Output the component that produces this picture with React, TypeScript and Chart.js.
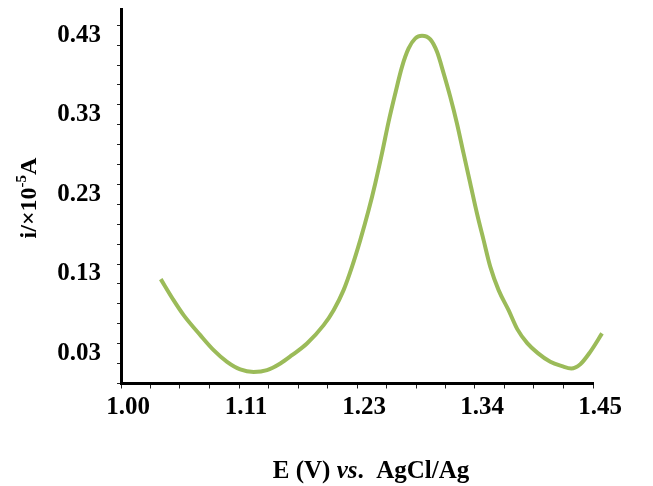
import { useEffect, useRef } from 'react';
import { Chart, registerables } from 'chart.js';

Chart.register(...registerables);

// Differential pulse voltammogram: potential (V vs. AgCl/Ag) and current (×10^-5 A)
const potentialV = [
  1.0379, 1.0501, 1.0597, 1.0756, 1.0883, 1.1011, 1.1137, 1.1264, 1.1392, 1.1519,
  1.163, 1.1773, 1.1932, 1.2027, 1.2122, 1.2202, 1.2281, 1.2361, 1.2424, 1.2488,
  1.2551, 1.2615, 1.2679, 1.2742, 1.2806, 1.287, 1.2949, 1.3013, 1.3076, 1.3139,
  1.3203, 1.3266, 1.333, 1.3394, 1.3457, 1.3521, 1.36, 1.3695, 1.3778, 1.3873,
  1.3974, 1.4093, 1.4204, 1.4293, 1.4379, 1.4474, 1.4586,
];
const currentA = [
  0.1236, 0.0972, 0.0784, 0.0532, 0.0344, 0.0197, 0.0102, 0.0071, 0.0093, 0.0177,
  0.0281, 0.0428, 0.0658, 0.0846, 0.1098, 0.139, 0.1726, 0.2103, 0.2438, 0.2815,
  0.3212, 0.3569, 0.3903, 0.4134, 0.426, 0.4292, 0.4247, 0.4091, 0.382, 0.3526,
  0.3192, 0.2815, 0.2438, 0.2061, 0.1726, 0.139, 0.1098, 0.0846, 0.0608, 0.0432,
  0.0306, 0.0197, 0.0143, 0.0114, 0.0168, 0.0323, 0.0554,
];

const xTickLabels = ['1.00', '1.11', '1.23', '1.34', '1.45'];
const yTickLabels = ['0.03', '0.13', '0.23', '0.33', '0.43'];

const X_MIN = 1.0;
const X_MAX = 1.45;
const X_STEP = (X_MAX - X_MIN) / 16;
const Y_MIN = -0.0075;
const Y_MAX = 0.4623;
const Y_STEP = 0.025;

const SERIF = '"Liberation Serif", "Times New Roman", serif';
const LINE_GREEN = '#9BBB59';

const axisTitles = {
  id: 'axisTitles',
  afterDraw(chart: Chart) {
    const ctx = chart.ctx;
    ctx.save();
    ctx.fillStyle = '#000';
    ctx.textBaseline = 'alphabetic';

    // x-axis title: "E (V) vs.  AgCl/Ag" with italic "vs."
    const parts: [string, string][] = [
      ['E (V) ', `bold 25px ${SERIF}`],
      ['vs', `italic bold 25px ${SERIF}`],
      ['.  AgCl/Ag', `bold 25px ${SERIF}`],
    ];
    let total = 0;
    for (const [t, f] of parts) {
      ctx.font = f;
      total += ctx.measureText(t).width;
    }
    let x = 371 - total / 2;
    for (const [t, f] of parts) {
      ctx.font = f;
      ctx.fillText(t, x, 478);
      x += ctx.measureText(t).width;
    }

    // y-axis title: "i/×10⁻⁵A", rotated
    ctx.translate(36, 198);
    ctx.rotate(-Math.PI / 2);
    const main = `bold 24px ${SERIF}`;
    const sup = `bold 15px ${SERIF}`;
    const segs: [string, string, number][] = [
      ['i/×10', main, 0],
      ['-5', sup, -10],
      ['A', main, 0],
    ];
    let w = 0;
    for (const [t, f] of segs) {
      ctx.font = f;
      w += ctx.measureText(t).width;
    }
    let px = -w / 2;
    for (const [t, f, dy] of segs) {
      ctx.font = f;
      ctx.fillText(t, px, dy);
      px += ctx.measureText(t).width;
    }
    ctx.restore();
  },
};

export default function App() {
  const canvasRef = useRef<HTMLCanvasElement | null>(null);

  useEffect(() => {
    document.body.style.margin = '0';
    const canvas = canvasRef.current;
    if (!canvas) return;

    const chart = new Chart(canvas, {
      type: 'line',
      data: {
        datasets: [
          {
            data: potentialV.map((v, i) => ({ x: v, y: currentA[i] })),
            borderColor: LINE_GREEN,
            borderWidth: 4,
            pointRadius: 0,
            cubicInterpolationMode: 'monotone',
            fill: false,
            clip: false,
          },
        ],
      },
      options: {
        animation: false,
        responsive: false,
        maintainAspectRatio: false,
        layout: { padding: { top: 9.5, right: 60, left: 0, bottom: 0 } },
        plugins: {
          legend: { display: false },
          tooltip: { enabled: false },
        },
        scales: {
          x: {
            type: 'linear',
            min: X_MIN,
            max: X_MAX,
            afterFit(scale: any) {
              scale.height = 102.5;
              scale.paddingLeft = 0;
              scale.paddingRight = 0;
            },
            afterBuildTicks(scale: any) {
              const ticks = [];
              for (let k = 0; k <= 16; k++) ticks.push({ value: X_MIN + k * X_STEP });
              scale.ticks = ticks;
            },
            border: { display: true, color: '#000', width: 3 },
            grid: {
              display: true,
              drawOnChartArea: false,
              drawTicks: true,
              tickLength: 5,
              tickWidth: 1,
              tickColor: '#222',
            },
            ticks: {
              autoSkip: false,
              maxRotation: 0,
              labelOffset: 7,
              padding: 4,
              color: '#000',
              font: { family: SERIF, size: 25, weight: 'bold' },
              callback: (_v: any, i: number) => (i % 4 === 0 ? xTickLabels[i / 4] : ''),
            },
          },
          y: {
            type: 'linear',
            min: Y_MIN,
            max: Y_MAX,
            afterFit(scale: any) {
              scale.width = 121;
              scale.paddingTop = 0;
              scale.paddingBottom = 0;
            },
            afterBuildTicks(scale: any) {
              const ticks = [];
              for (let k = 0; k <= 18; k++) ticks.push({ value: Y_MIN + k * Y_STEP });
              scale.ticks = ticks;
            },
            border: { display: true, color: '#000', width: 3 },
            grid: {
              display: true,
              drawOnChartArea: false,
              drawTicks: true,
              tickLength: 4,
              tickWidth: 1,
              tickColor: '#222',
            },
            ticks: {
              autoSkip: false,
              labelOffset: -10,
              padding: 16,
              color: '#000',
              font: { family: SERIF, size: 25, weight: 'bold' },
              callback: (_v: any, i: number) => (i % 4 === 1 ? yTickLabels[(i - 1) / 4] : ''),
            },
          },
        },
      },
      plugins: [axisTitles],
    });

    return () => chart.destroy();
  }, []);

  return (
    <div style={{ position: 'relative', width: 653, height: 486 }}>
      <canvas ref={canvasRef} width={653} height={486} style={{ display: 'block' }} />
    </div>
  );
}
